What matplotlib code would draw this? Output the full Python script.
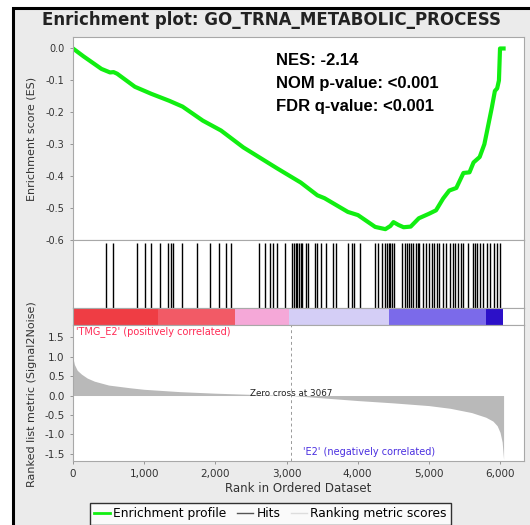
import numpy as np
import matplotlib
matplotlib.use('Agg')
import matplotlib.pyplot as plt
from matplotlib.lines import Line2D
from matplotlib.patches import Rectangle

plt.rcParams['axes.unicode_minus'] = False
plt.rcParams['font.family'] = ['DejaVu Sans']

# Running enrichment score (rank, ES)
es_rank = [0, 150, 400, 520, 570, 620, 870, 1100, 1354, 1539, 1824, 2080, 2394, 2864, 3200, 3434,
           3534, 3862, 4004, 4246, 4389, 4460, 4503, 4574, 4645, 4745, 4859, 5000, 5101, 5201,
           5287, 5386, 5486, 5571, 5628, 5714, 5780, 5814, 5885, 5928, 5960, 5985, 6000, 6050]
es_value = [0.0, -0.025, -0.064, -0.075, -0.074, -0.079, -0.12, -0.142, -0.164, -0.182, -0.226,
            -0.257, -0.31, -0.375, -0.42, -0.46, -0.469, -0.512, -0.522, -0.559, -0.566, -0.556,
            -0.544, -0.553, -0.56, -0.558, -0.532, -0.518, -0.507, -0.47, -0.445, -0.437, -0.39,
            -0.388, -0.357, -0.34, -0.3, -0.263, -0.185, -0.133, -0.125, -0.10, 0.0, 0.0]

# Positions of the gene set members in the ranked list
hit_ranks = [461, 556, 898, 1007, 1102, 1221, 1335, 1382, 1411, 1525, 1739, 1929, 2052, 2147, 2223,
             2608, 2703, 2774, 2812, 2869, 2978, 3083, 3107, 3130, 3154, 3178, 3202, 3216, 3273,
             3297, 3406, 3425, 3487, 3558, 3653, 3691, 3867, 3914, 3952, 4033, 4247, 4285, 4342,
             4389, 4413, 4437, 4460, 4484, 4508, 4627, 4660, 4698,
             4722, 4746, 4779, 4817, 4841, 4864, 4912, 4959, 5007, 5045, 5078, 5116, 5149, 5197,
             5244, 5292, 5339, 5363, 5410, 5458, 5482, 5553, 5615, 5648, 5681, 5719, 5767, 5814,
             5862, 5909, 5957, 6004]

# Ranked list metric (Signal2Noise)
metric_rank = [0, 20, 60, 120, 200, 300, 500, 800, 1000, 1500, 2000, 2500, 3067, 3500, 4000, 4500,
               5000, 5300, 5600, 5800, 5900, 5960, 6000, 6030, 6050]
metric_value = [0.96, 0.8, 0.65, 0.55, 0.45, 0.37, 0.27, 0.2, 0.16, 0.1, 0.06, 0.03, 0.0, -0.06,
                -0.13, -0.19, -0.26, -0.33, -0.44, -0.56, -0.66, -0.78, -0.95, -1.2, -1.65]

# Heat bar under the hits
bar_edges = [0, 1200, 2280, 3040, 4440, 5800, 6040]
bar_colors = ['#ef3d44', '#f25a66', '#f5a8d8', '#d4cef6', '#7b6aea', '#2c10c8']

zero_cross = 3067
x_ticks = [0, 1000, 2000, 3000, 4000, 5000, 6000]
es_ticks = [0.0, -0.1, -0.2, -0.3, -0.4, -0.5, -0.6]
metric_ticks = [1.5, 1.0, 0.5, 0.0, -0.5, -1.0, -1.5]

W, H = 530, 525
fig = plt.figure(figsize=(W / 100, H / 100), dpi=100)
fig.patch.set_facecolor('white')

# grey panel with the black frame (right and bottom edges run off the image)
fig.patches.append(Rectangle((13 / W, -0.1), 1.2, (H - 8) / H + 0.1, transform=fig.transFigure,
                             facecolor='#ebebeb', edgecolor='black', linewidth=2.2, zorder=-5))


def px_axes(left, top, right, bottom):
   return fig.add_axes([left / W, 1 - bottom / H, (right - left) / W, (bottom - top) / H])


xmax = 6337
ax_es = px_axes(73, 37, 524, 240)
ax_hits = px_axes(73, 240, 524, 308)
ax_bar = px_axes(73, 308, 524, 325)
ax_metric = px_axes(73, 325, 524, 461)

for ax in [ax_es, ax_hits, ax_bar, ax_metric]:
   ax.set_xlim(0, xmax)
   ax.set_facecolor('white')
   for sp in ax.spines.values():
      sp.set_color('#a8a8a8')
      sp.set_linewidth(0.8)
   ax.tick_params(colors='#888888', labelcolor='#333333', labelsize=7, length=2.5, width=0.6)
   ax.set_xticks(x_ticks)
   ax.tick_params(axis='x', labelbottom=False, length=0)

# enrichment profile
ax_es.plot(es_rank, es_value, color='#11ee11', linewidth=3.0, solid_joinstyle='round')
ax_es.set_ylim(-0.6, 0.036)
ax_es.set_yticks(es_ticks)
ax_es.set_yticklabels(['{:.1f}'.format(v) for v in es_ticks])
ax_es.set_ylabel('Enrichment score (ES)', fontsize=8, color='#333333', labelpad=6)
ax_es.text(2850, -0.038, 'NES: -2.14', fontsize=12, fontweight='bold', family='Liberation Sans',
           va='center')
ax_es.text(2850, -0.11, 'NOM p-value: <0.001', fontsize=12, fontweight='bold',
           family='Liberation Sans', va='center')
ax_es.text(2850, -0.182, 'FDR q-value: <0.001', fontsize=12, fontweight='bold',
           family='Liberation Sans', va='center')

# hits
ax_hits.vlines(hit_ranks, 0, 0.95, color='black', linewidth=1.0)
ax_hits.set_ylim(0, 1)
ax_hits.set_yticks([])

# heat bar
for i in range(len(bar_colors)):
   ax_bar.axvspan(bar_edges[i], bar_edges[i + 1], color=bar_colors[i], linewidth=0)
ax_bar.set_ylim(0, 1)
ax_bar.set_yticks([])

# ranked list metric
ax_metric.fill_between(metric_rank, metric_value, 0, color='#b9b9b9', linewidth=0)
ax_metric.axvline(zero_cross, color='#999999', linewidth=0.7, linestyle=(0, (3, 3)))
ax_metric.set_ylim(-1.69, 1.82)
ax_metric.set_yticks(metric_ticks)
ax_metric.set_yticklabels(['{:.1f}'.format(v) for v in metric_ticks])
ax_metric.tick_params(axis='y', labelsize=7.5)
ax_metric.tick_params(axis='x', labelbottom=True, length=2.5, labelsize=7.5)
ax_metric.set_xticklabels(['{:,}'.format(v) for v in x_ticks])
ax_metric.set_xlabel('Rank in Ordered Dataset', fontsize=8.5, color='#333333', labelpad=2)
ax_metric.set_ylabel('Ranked list metric (Signal2Noise)', fontsize=8, color='#333333', labelpad=5)
ax_metric.text(zero_cross, 0.04, 'Zero cross at {}'.format(zero_cross), fontsize=6.3, ha='center',
               va='center', color='#222222')
ax_metric.text(40, 1.66, "'TMG_E2' (positively correlated)", fontsize=7, color='#ff2a55',
               va='center')
ax_metric.text(3230, -1.47, "'E2' (negatively correlated)", fontsize=7, color='#4a2fe0',
               va='center')

fig.text(272 / W, 1 - 20 / H, 'Enrichment plot: GO_TRNA_METABOLIC_PROCESS', fontsize=12,
         fontweight='bold', ha='center', va='center', color='#222222')

# y labels line up on the same x
ax_es.yaxis.set_label_coords(-0.08, 0.5)
ax_metric.yaxis.set_label_coords(-0.08, 0.49)

handles = [Line2D([], [], color='#11ee11', linewidth=2),
           Line2D([], [], color='#555555', linewidth=1),
           Line2D([], [], color='#dddddd', linewidth=1)]
leg = fig.legend(handles, ['Enrichment profile', 'Hits', 'Ranking metric scores'], ncol=3,
                 loc='upper left', bbox_to_anchor=(90 / W, 1 - 503 / H), fontsize=8.8,
                 frameon=True, fancybox=False, handlelength=1.3, handletextpad=0.25,
                 columnspacing=0.9, borderpad=0.35, borderaxespad=0)
leg.get_frame().set_edgecolor('black')
leg.get_frame().set_linewidth(1.0)

plt.savefig('out.png', dpi=100, facecolor=fig.get_facecolor())
